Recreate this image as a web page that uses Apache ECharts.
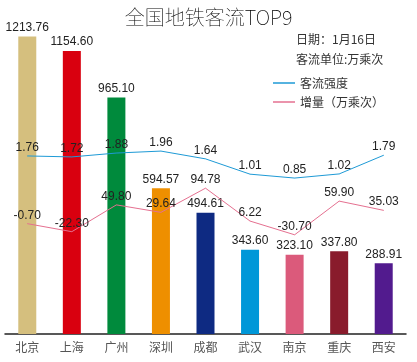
<!DOCTYPE html>
<html><head><meta charset="utf-8">
<script src="https://cdn.jsdelivr.net/npm/echarts@6/dist/echarts.min.js"></script>
<style>html,body{margin:0;padding:0;background:#fff}#c{width:417px;height:362px}</style>
</head><body><div id="c"></div>
<script>
var categories = ['北京','上海','广州','深圳','成都','武汉','南京','重庆','西安'];
var flowValues = [1213.76,1154.60,965.10,594.57,494.61,343.60,323.10,337.80,288.91];
var intensityValues = [1.76,1.72,1.88,1.96,1.64,1.01,0.85,1.02,1.79];
var incrementValues = [-0.70,-22.30,49.80,29.64,94.78,6.22,-30.70,59.90,35.03];
var barColors = ['#D5BF7E','#D9000F','#008A3C','#EE8F00','#0E2A82','#0097D8','#DB5A7B','#891B2C','#521B8E'];

var chart = echarts.init(document.getElementById('c'));
var font = '"Liberation Sans", Arial, "Noto Sans CJK SC", sans-serif';
var cjk = '"Noto Sans CJK SC", sans-serif';
function fmt(p){return Number(p.value).toFixed(2);}
chart.setOption({
  animation:false,
  backgroundColor:'#fff',
  title:{text:'全国地铁客流TOP9',left:'center',top:2,textStyle:{fontSize:20,fontWeight:'lighter',color:'#000',fontFamily:cjk}},
  graphic:[
    {type:'text',left:296,top:33,style:{text:'日期：1月16日',font:'12px "Noto Sans CJK SC", sans-serif',fill:'#333'}},
    {type:'text',left:296,top:53,style:{text:'客流单位:万乘次',font:'12px "Noto Sans CJK SC", sans-serif',fill:'#333'}}
  ],
  legend:{orient:'vertical',left:268,top:72,itemWidth:22,itemHeight:1.5,itemGap:7,
    textStyle:{fontSize:12,color:'#333',fontFamily:cjk},
    data:[{name:'客流强度',icon:'rect'},{name:'增量（万乘次）',icon:'rect'}]},
  grid:{left:5,right:11,top:0,bottom:28},
  xAxis:{type:'category',data:categories,
    axisLine:{lineStyle:{color:'#222',width:1.5}},axisTick:{show:false},
    axisLabel:{fontSize:12,color:'#555',margin:7,fontFamily:cjk}},
  yAxis:[
    {type:'value',min:0,max:1363,show:false,splitLine:{show:false}},
    {type:'value',min:-5.57,max:8.18,show:false,splitLine:{show:false}},
    {type:'value',min:-297.6,max:601,show:false,splitLine:{show:false}}
  ],
  series:[
    {name:'客流',type:'bar',barWidth:18,yAxisIndex:0,
      data:flowValues.map(function(v,i){return {value:v,itemStyle:{color:barColors[i]}};}),
      label:{show:true,position:'top',distance:3,fontSize:12,color:'#222',fontFamily:font,formatter:fmt}},
    {name:'客流强度',type:'line',yAxisIndex:1,data:intensityValues,symbol:'circle',symbolSize:0.5,showSymbol:true,
      lineStyle:{color:'#1E9AD6',width:1},itemStyle:{color:'#1E9AD6'},
      label:{show:true,position:'top',distance:2,fontSize:12,color:'#222',fontFamily:font,formatter:fmt}},
    {name:'增量（万乘次）',type:'line',yAxisIndex:2,data:incrementValues,symbol:'circle',symbolSize:0.5,showSymbol:true,
      lineStyle:{color:'#E57090',width:1},itemStyle:{color:'#E57090'},
      label:{show:true,position:'top',distance:2,fontSize:12,color:'#222',fontFamily:font,formatter:fmt}}
  ]
});
</script></body></html>
